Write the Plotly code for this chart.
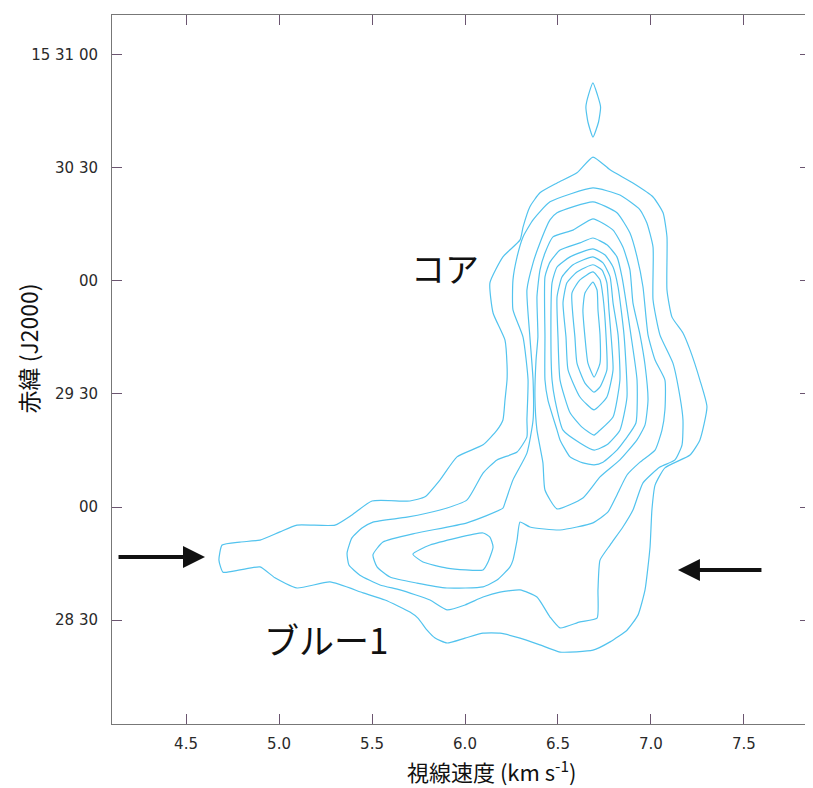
import plotly.graph_objects as go

# ---- contour levels ----
# velocity (km/s) and declination offset (arcsec from 15 28 00)
L1_VEL = [4.694, 4.790, 4.898, 5.005, 5.097, 5.301, 5.392, 5.500, 5.704, 5.785, 5.866, 5.957, 6.097, 6.172,
          6.204, 6.215, 6.226, 6.226, 6.215, 6.151, 6.134, 6.204, 6.296, 6.312, 6.349, 6.403, 6.495, 6.602,
          6.688, 6.780, 6.903, 7.011, 7.065, 7.086, 7.086, 7.113, 7.172, 7.210, 7.263, 7.301, 7.263, 7.210,
          7.075, 7.022, 7.005, 6.995, 6.968, 6.930, 6.871, 6.780, 6.688, 6.511, 6.403, 6.296, 6.188, 6.097,
          6.000, 5.903, 5.839, 5.796, 5.747, 5.704, 5.570, 5.452, 5.274, 5.097, 4.978, 4.898, 4.790, 4.699,
          4.677]
L1_DEC = [169.9, 170.7, 171.2, 173.4, 175.2, 175.2, 177.9, 181.6, 181.6, 182.7, 187.2, 193.3, 196.5, 200.4,
          203.1, 208.4, 213.7, 217.7, 224.3, 231.5, 239.5, 246.4, 250.9, 254.3, 259.7, 263.4, 266.0, 268.7,
          272.9, 269.5, 266.0, 262.3, 258.1, 251.7, 237.6, 230.4, 226.2, 221.7, 213.7, 206.6, 197.8, 193.8,
          190.4, 185.8, 179.2, 169.4, 158.0, 151.3, 147.3, 144.2, 142.0, 141.5, 143.4, 145.2, 146.5, 146.5,
          145.2, 143.9, 145.2, 147.3, 150.5, 152.1, 155.3, 157.2, 160.1, 158.5, 161.2, 164.1, 163.3, 162.7,
          165.9]

L1_TOP_VEL = [6.688, 6.712, 6.729, 6.718, 6.688, 6.661, 6.650, 6.664]
L1_TOP_DEC = [292.6, 289.4, 286.2, 282.2, 278.2, 282.2, 286.2, 289.4]

L2_VEL = [5.366, 5.392, 5.446, 5.505, 5.688, 5.866, 6.011, 6.097, 6.172, 6.280, 6.333, 6.333, 6.339, 6.312,
          6.258, 6.258, 6.280, 6.312, 6.366, 6.457, 6.688, 6.833, 6.941, 6.978, 7.011, 7.011, 7.048, 7.118,
          7.156, 7.172, 7.167, 7.129, 7.048, 6.957, 6.903, 6.849, 6.780, 6.726, 6.715, 6.710, 6.618, 6.511,
          6.457, 6.387, 6.296, 6.188, 6.097, 6.000, 5.903, 5.812, 5.651, 5.543, 5.435, 5.376]
L2_DEC = [167.8, 171.8, 174.4, 176.0, 177.3, 179.2, 181.9, 189.0, 192.5, 194.6, 198.6, 203.1, 213.7, 225.1,
          232.3, 240.3, 246.4, 251.7, 256.2, 261.0, 264.7, 262.8, 258.9, 255.4, 249.0, 235.0, 225.7, 218.2,
          209.2, 203.1, 196.5, 192.5, 190.6, 186.4, 179.2, 174.7, 169.9, 165.9, 158.0, 150.5, 149.5, 147.9,
          150.8, 156.1, 158.0, 157.4, 156.1, 154.0, 152.7, 155.3, 158.0, 159.3, 161.9, 164.6]

L3_VEL = [5.505, 5.559, 5.742, 6.011, 6.204, 6.215, 6.258, 6.333, 6.366, 6.366, 6.349, 6.333, 6.366, 6.403,
          6.457, 6.495, 6.688, 6.817, 6.887, 6.925, 6.957, 6.984, 7.022, 7.075, 7.075, 7.059, 7.022, 6.941,
          6.871, 6.817, 6.769, 6.688, 6.511, 6.349, 6.296, 6.280, 6.258, 6.242, 6.172, 6.097, 5.903, 5.742,
          5.597, 5.527]
L3_DEC = [167.3, 170.7, 173.1, 175.8, 179.7, 181.1, 187.2, 194.3, 203.1, 213.7, 225.1, 237.6, 244.8, 250.1,
          256.2, 258.1, 261.0, 258.1, 252.7, 246.4, 238.4, 225.7, 219.0, 213.7, 205.8, 200.4, 195.1, 191.9,
          188.5, 183.2, 178.7, 175.8, 173.9, 174.7, 176.0, 171.2, 165.9, 164.1, 160.6, 158.8, 158.5, 159.8,
          161.4, 164.1]

L4_BLUE_VEL = [5.720, 5.812, 6.097, 6.134, 6.151, 6.124, 6.097, 5.903, 5.774]
L4_BLUE_DEC = [167.5, 169.9, 173.1, 172.0, 169.4, 165.4, 163.3, 163.8, 165.4]

L4_VEL = [6.688, 6.796, 6.849, 6.887, 6.903, 6.941, 6.968, 6.984, 6.968, 6.925, 6.833, 6.726, 6.634, 6.495,
          6.430, 6.419, 6.387, 6.376, 6.382, 6.392, 6.387, 6.403, 6.430, 6.473, 6.581]
L4_DEC = [256.5, 253.5, 249.0, 242.9, 234.2, 225.7, 217.7, 208.4, 201.8, 197.8, 192.5, 188.0, 182.4, 179.5,
          184.5, 191.7, 200.4, 209.2, 219.0, 225.1, 235.8, 242.9, 247.4, 251.7, 253.5]

L5_VEL = [6.688, 6.763, 6.817, 6.844, 6.892, 6.925, 6.919, 6.860, 6.817, 6.742, 6.694, 6.634, 6.565, 6.511,
          6.495, 6.446, 6.430, 6.430, 6.430, 6.457, 6.511, 6.618]
L5_DEC = [251.4, 249.6, 246.4, 241.1, 225.7, 213.7, 202.3, 197.8, 195.1, 191.9, 191.2, 191.7, 193.3, 197.8,
          200.4, 208.4, 213.7, 225.1, 241.1, 245.0, 248.2, 250.1]

L6_VEL = [6.688, 6.753, 6.796, 6.823, 6.855, 6.871, 6.833, 6.763, 6.694, 6.618, 6.527, 6.484, 6.468, 6.462,
          6.468, 6.495, 6.565]
L6_DEC = [248.5, 246.9, 243.7, 238.4, 225.7, 209.2, 200.4, 196.5, 195.1, 197.0, 200.4, 208.4, 213.7, 225.1,
          239.5, 243.7, 246.4]

L7_VEL = [6.688, 6.742, 6.780, 6.796, 6.823, 6.833, 6.796, 6.726, 6.694, 6.629, 6.565, 6.511, 6.500, 6.495,
          6.522, 6.581]
L7_DEC = [246.4, 244.8, 241.1, 234.2, 225.7, 213.7, 203.9, 200.4, 199.1, 201.2, 205.0, 213.7, 225.1, 235.8,
          241.1, 244.3]

L8_VEL = [6.688, 6.737, 6.763, 6.774, 6.785, 6.796, 6.763, 6.694, 6.618, 6.554, 6.543, 6.527, 6.548, 6.602]
L8_DEC = [244.3, 242.9, 239.5, 232.3, 225.7, 216.4, 209.2, 205.8, 209.2, 216.4, 225.1, 234.2, 239.5, 242.4]

L9_VEL = [6.688, 6.726, 6.742, 6.758, 6.763, 6.726, 6.694, 6.645, 6.602, 6.591, 6.575, 6.618]
L9_DEC = [242.4, 240.3, 235.8, 225.7, 216.4, 211.9, 210.5, 212.9, 218.2, 225.1, 236.8, 240.3]

L10_VEL = [6.688, 6.710, 6.715, 6.726, 6.726, 6.694, 6.661, 6.645, 6.634, 6.645]
L10_DEC = [239.7, 237.6, 232.3, 225.7, 218.2, 214.5, 218.2, 225.1, 232.3, 236.8]

CONTOURS = [
    (L1_VEL, L1_DEC), (L1_TOP_VEL, L1_TOP_DEC), (L2_VEL, L2_DEC), (L3_VEL, L3_DEC),
    (L4_BLUE_VEL, L4_BLUE_DEC), (L4_VEL, L4_DEC), (L5_VEL, L5_DEC), (L6_VEL, L6_DEC),
    (L7_VEL, L7_DEC), (L8_VEL, L8_DEC), (L9_VEL, L9_DEC), (L10_VEL, L10_DEC),
]

DEC_TICKS = [150, 180, 210, 240, 270, 300]
DEC_TICK_TEXT = ["28 30", "00", "29 30", "00", "30 30", "15 31 00"]
VEL_TICKS = [4.5, 5.0, 5.5, 6.0, 6.5, 7.0, 7.5]
VEL_TICK_TEXT = ["4.5", "5.0", "5.5", "6.0", "6.5", "7.0", "7.5"]

LINE_COLOR = "#52c3ee"

fig = go.Figure()
for vel, dec in CONTOURS:
    fig.add_trace(go.Scatter(
        x=vel + [vel[0]], y=dec + [dec[0]], mode="lines",
        line=dict(color=LINE_COLOR, width=1.2, shape="spline", smoothing=0.5),
        hoverinfo="skip", showlegend=False))

tick_font = dict(family="DejaVu Sans, sans-serif", size=15, color="#2a2a2a")

fig.update_layout(
    width=805, height=780,
    margin=dict(l=104, r=3, t=7, b=64),
    paper_bgcolor="white", plot_bgcolor="white",
    xaxis=dict(range=[4.102, 7.855], tickvals=VEL_TICKS, ticktext=VEL_TICK_TEXT,
               ticks="inside", ticklen=10, tickcolor="#6b5570", tickwidth=1,
               showline=True, linecolor="#777", linewidth=1, mirror="allticks",
               showgrid=False, zeroline=False, tickfont=tick_font, ticklabelstandoff=6),
    yaxis=dict(range=[122.4, 310.6], tickvals=DEC_TICKS, ticktext=DEC_TICK_TEXT,
               ticks="inside", ticklen=10, tickcolor="#6b5570", tickwidth=1,
               showline=True, linecolor="#777", linewidth=1, mirror="allticks",
               showgrid=False, zeroline=False, tickfont=tick_font, ticklabelstandoff=10),
    font=dict(family="Noto Sans CJK JP, Liberation Sans, sans-serif"),
)

jp = "Noto Sans CJK JP, sans-serif"
fig.add_annotation(text="視線速度 (km s<sup>-1</sup>)", xref="paper", yref="paper",
                   x=0.543, y=-0.066, xanchor="center", yanchor="middle", showarrow=False,
                   font=dict(family=jp, size=22, color="#111"))
fig.add_annotation(text="赤緯 (J2000)", xref="paper", yref="paper",
                   x=-0.120, y=0.53, xanchor="center", yanchor="middle", textangle=-90,
                   showarrow=False, font=dict(family=jp, size=23, color="#111"))
fig.add_annotation(text="コア", x=5.89, y=243.5, showarrow=False,
                   font=dict(family=jp, size=34, color="#111"))
fig.add_annotation(text="ブルー1", x=5.253, y=145.2, showarrow=False,
                   font=dict(family=jp, size=35, color="#111"))
# arrows marking the blue-shifted feature
fig.add_annotation(x=4.602, y=166.7, ax=4.129, ay=166.7, xref="x", yref="y", axref="x", ayref="y",
                   showarrow=True, arrowhead=2, arrowsize=1.1, arrowwidth=4, arrowcolor="#111", text="")
fig.add_annotation(x=7.145, y=163.3, ax=7.602, ay=163.3, xref="x", yref="y", axref="x", ayref="y",
                   showarrow=True, arrowhead=2, arrowsize=1.1, arrowwidth=4, arrowcolor="#111", text="")

fig.write_html("out.html")
